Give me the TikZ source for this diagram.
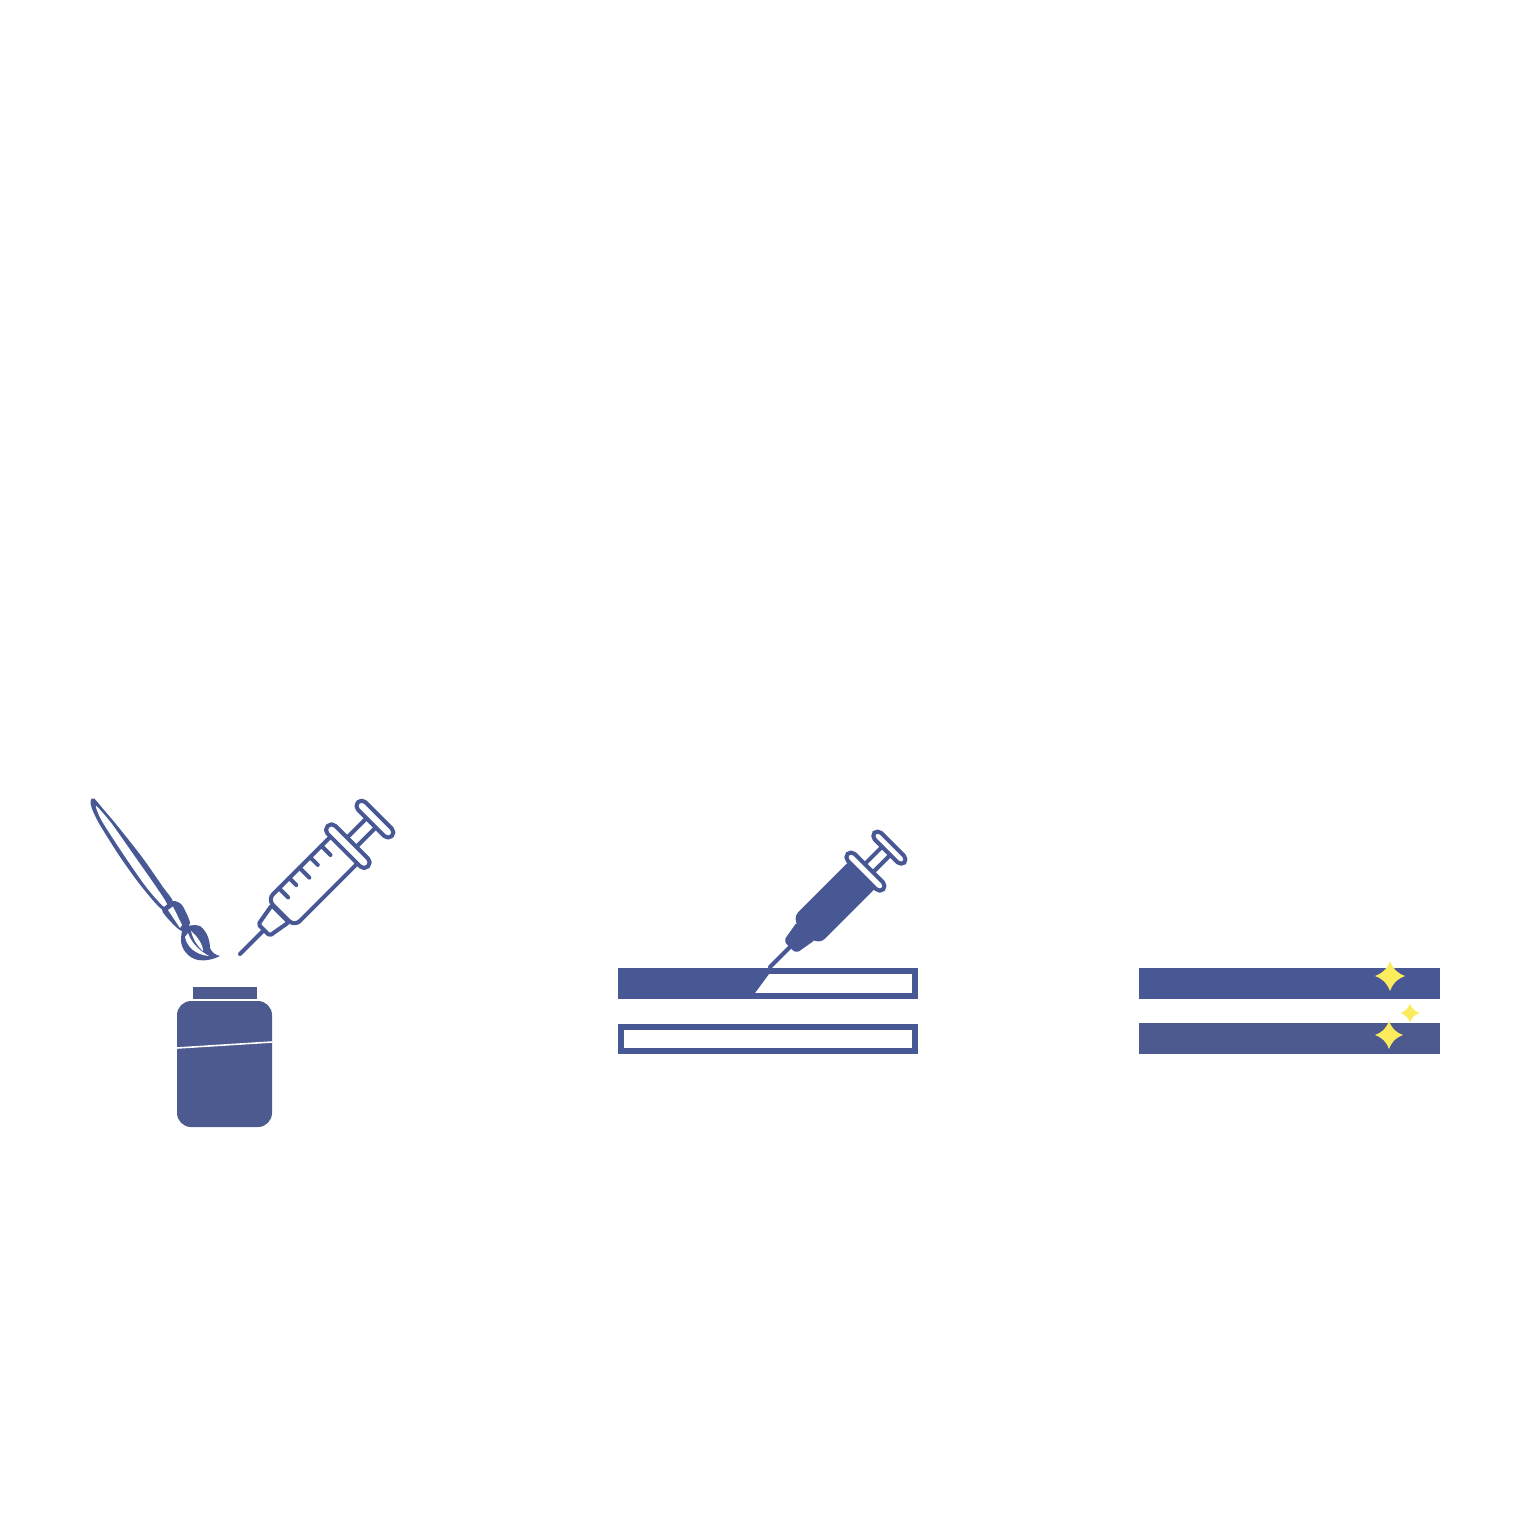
\documentclass[tikz,border=0pt]{standalone}
\definecolor{ink}{HTML}{485895}
\definecolor{jarink}{HTML}{4C5A8F}
\definecolor{spark}{HTML}{FBEC5D}
\tikzset{
  thinline/.style={line width=1.15pt,draw=ink,line join=round,line cap=round},
  hollowpart/.style={thinline,fill=white,rounded corners=1.5pt},
  hubpart/.style={thinline,fill=white,rounded corners=.5pt},
  openbar/.style={fill=white,draw=ink,line width=1.55pt,line join=miter},
  pic star/.style={fill=spark,draw=none},
}
\newcommand{\plunger}{%
  \draw[hollowpart] (150,-6.5) rectangle (190,6.5);
  \draw[hollowpart] (147,-28.5) rectangle (158,28.5);
  \draw[hollowpart] (185.5,-24) rectangle (196,24);
}
\newcommand{\sparkle}[3]{%
  \fill[pic star] (#1,#2-#3) .. controls (#1+#3*.22,#2-#3*.45) and (#1+#3*.45,#2-#3*.22) .. (#1+#3,#2)
   .. controls (#1+#3*.45,#2+#3*.22) and (#1+#3*.22,#2+#3*.45) .. (#1,#2+#3)
   .. controls (#1-#3*.22,#2+#3*.45) and (#1-#3*.45,#2+#3*.22) .. (#1-#3,#2)
   .. controls (#1-#3*.45,#2-#3*.22) and (#1-#3*.22,#2-#3*.45) .. cycle;
}
\begin{document}
\begin{tikzpicture}[x=0.01cm,y=-0.01cm]
\useasboundingbox (0,0) rectangle (1536,1536);
% brush handle
\fill[ink] plot[smooth cycle,tension=.5] coordinates {(90.5,801)(94,798.5)(104,810)(116.7,825)(141.7,856.7)(162.7,886.7)(173,902)(163,910)(141.7,886.7)(120,856.7)(100,825)(92.5,810)};
\fill[white] plot[smooth cycle,tension=.5] coordinates {(96,806)(102,812)(112.7,825)(135,856.7)(156,886.7)(167,904)(163,906)(146,886.7)(125,856.7)(104.3,825)(98,813)};
% ferrule
\fill[ink] plot[smooth cycle,tension=.4] coordinates {(162,910)(173,901)(182,905)(190,923)(182,931)(172,923)};
\fill[white] (168,910) -- (173,906.5) -- (182,925) -- (180,928) -- cycle;
% brush head
\fill[ink] (182,930) .. controls (186,925) and (195,924) .. (200,926) .. controls (208,932) and (210,942) .. (210,948)
  .. controls (212,953) and (216,955) .. (220,956) .. controls (212,960) and (204,961) .. (198,960)
  .. controls (188,958) and (180,948) .. (181,938) -- cycle;
\fill[white] (185,937) .. controls (187,947) and (196,955) .. (209,956) .. controls (200,951) and (192,944) .. (188,933) -- cycle;
\fill[white] (191,931) .. controls (198,937) and (203,945) .. (203,951) .. controls (197,946) and (193,939) .. (191,931) -- cycle;
% jar
\fill[jarink] (193,987) rectangle (257,999);
\fill[jarink,rounded corners=4pt] (177,1001) rectangle (272,1127);
\draw[white,line width=.45pt] (177,1048) -- (272,1042);
% open syringe
\begin{scope}[shift={(240,954)},rotate=45]
  \draw[thinline] (0,0) -- (34,0);
  \draw[hubpart] (34,-8) -- (57,-12) -- (57,12) -- (34,8) -- cycle;
  \draw[hollowpart,rounded corners=2.2pt] (58,-19) -- (152,-19) -- (152,19) -- (58,19) -- cycle;
  \foreach \u/\l in {74/13,88.5/10,103/14,118/11,134/13}
    \draw[thinline] (\u,-19) -- (\u,-19+\l);
  \plunger
\end{scope}
% filled syringe
\begin{scope}[shift={(770,967)},rotate=45,scale=.885]
  \draw[thinline] (0,0) -- (34,0);
  \draw[hubpart,fill=ink] (34,-8) -- (57,-12) -- (57,12) -- (34,8) -- cycle;
  \draw[hollowpart,fill=ink,rounded corners=2.2pt] (58,-19) -- (152,-19) -- (152,19) -- (58,19) -- cycle;
  \plunger
\end{scope}
% middle bars
\draw[openbar] (620.8,970.8) rectangle (915.2,995.8);
\fill[ink] (618,968) -- (769,968) -- (769,974) -- (755,993) -- (755,998) -- (618,998) -- cycle;
\draw[openbar] (620.8,1026.8) rectangle (915.2,1051.2);
% right bars
\fill[ink] (1139,968) rectangle (1440,999);
\fill[jarink] (1139,1023) rectangle (1440,1054);
\sparkle{1390}{976}{15}
\sparkle{1389}{1035}{14}
\sparkle{1410}{1013}{9.5}
\end{tikzpicture}
\end{document}
